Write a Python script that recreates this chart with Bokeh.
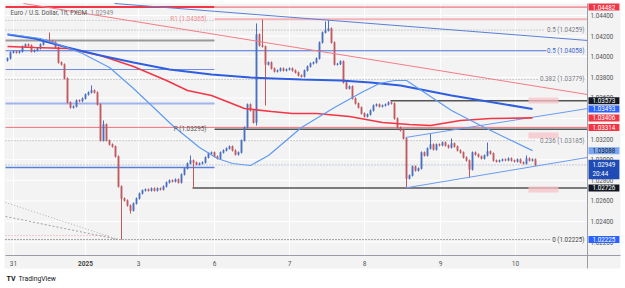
from bokeh.plotting import figure
from bokeh.models import Range1d, Label
from bokeh.core.properties import value
from bokeh.embed import file_html
from bokeh.resources import INLINE

# ---------------- data (EUR/USD 1h) ----------------
first_open = 1.03963
closes = [
    1.03983, 1.04041, 1.04051, 1.04041, 1.04051, 1.04099, 1.04119, 1.04109, 1.04051, 1.04061,
    1.04080, 1.04119, 1.04148, 1.04158, 1.04150, 1.04140, 1.04090, 1.03944, 1.03925, 1.03789,
    1.03556, 1.03507, 1.03517, 1.03575, 1.03570, 1.03594, 1.03633, 1.03653, 1.03672, 1.03653,
    1.03536, 1.03187, 1.03342, 1.03187, 1.03148, 1.03128, 1.03031, 1.02740, 1.02623, 1.02604,
    1.02555, 1.02507, 1.02575, 1.02623, 1.02672, 1.02701, 1.02711, 1.02701, 1.02721, 1.02701,
    1.02721, 1.02711, 1.02740, 1.02779, 1.02798, 1.02789, 1.02808, 1.02779, 1.02857, 1.02915,
    1.02963, 1.02992, 1.02973, 1.02954, 1.02963, 1.02973, 1.03022, 1.03060, 1.03070, 1.03031,
    1.03012, 1.03070, 1.03090, 1.03109, 1.03128, 1.03090, 1.03051, 1.03070, 1.03187, 1.03313,
    1.03536, 1.03478, 1.03361, 1.04216, 1.04109, 1.04099, 1.03925, 1.03944, 1.03886, 1.03857,
    1.03866, 1.03886, 1.03866, 1.03876, 1.03886, 1.03866, 1.03847, 1.03818, 1.03808, 1.03866,
    1.03905, 1.03934, 1.03944, 1.03983, 1.04138, 1.04235, 1.04255, 1.04274, 1.04138, 1.03925,
    1.03930, 1.03954, 1.03750, 1.03692, 1.03711, 1.03594, 1.03546, 1.03507, 1.03449, 1.03420,
    1.03439, 1.03478, 1.03526, 1.03536, 1.03517, 1.03526, 1.03536, 1.03556, 1.03546, 1.03400,
    1.03313, 1.03284, 1.03206, 1.02818, 1.02847, 1.02934, 1.02895, 1.02915, 1.03070, 1.03041,
    1.03109, 1.03148, 1.03099, 1.03148, 1.03140, 1.03167, 1.03138, 1.03119, 1.03157, 1.03128,
    1.03090, 1.03070, 1.03022, 1.02992, 1.02905, 1.03070, 1.03051, 1.03031, 1.03012, 1.03041,
    1.03080, 1.03060, 1.02992, 1.02983, 1.02992, 1.03002, 1.02995, 1.03012, 1.02992, 1.02983,
    1.03002, 1.02973, 1.02963, 1.03012, 1.02992, 1.03002, 1.02949,
]
# long wicks: bar -> (high, low); None = short wick
long_wicks = {
    14: (1.04235, None), 28: (1.03721, None), 32: (1.03381, None), 38: (None, 1.02225),
    41: (None, 1.02478), 61: (1.03041, None), 62: (None, 1.02726), 83: (1.04323, 1.03332),
    85: (1.04362, None), 86: (None, 1.03526), 106: (1.04342, None), 107: (1.04352, None),
    133: (None, 1.02726), 141: (1.03255, None), 148: (1.03206, None), 154: (None, 1.02827),
    160: (1.03167, None), 173: (1.03041, None),
}

# moving averages (bar, price)
fast_ma_x = [0, 11, 18, 25, 34, 42, 48, 55, 64, 70, 75, 81, 87, 98, 109, 118, 124, 129, 133, 138, 148, 159, 175]
fast_ma_y = [1.04221, 1.04177, 1.04109, 1.04031, 1.03895, 1.03692, 1.03526, 1.03332, 1.03119, 1.03012,
             1.02963, 1.02944, 1.03041, 1.03313, 1.03507, 1.03653, 1.03740, 1.03769, 1.03769, 1.03672,
             1.03478, 1.03313, 1.03088]
blue_ma_x = [0, 9, 20, 31, 42, 54, 68, 81, 98, 111, 121, 131, 148, 175]
blue_ma_y = [1.04216, 1.04177, 1.04090, 1.04012, 1.03944, 1.03876, 1.03827, 1.03798, 1.03779, 1.03769,
             1.03750, 1.03721, 1.03624, 1.03493]
red_ma_x = [0, 9, 20, 31, 42, 53, 60, 68, 79, 88, 95, 103, 114, 125, 134, 141, 151, 161, 175]
red_ma_y = [1.04099, 1.04090, 1.04080, 1.04012, 1.03905, 1.03769, 1.03672, 1.03624, 1.03497, 1.03468,
            1.03449, 1.03449, 1.03420, 1.03361, 1.03342, 1.03332, 1.03381, 1.03400, 1.03406]

# trend lines (bar, price pairs)
desc_blue_x = [35.67, 193.33]
desc_blue_y = [1.04517, 1.04158]
desc_red_x = [5.33, 193.33]
desc_red_y = [1.04517, 1.03633]
chan_up_x = [132.67, 193.33]
chan_up_y = [1.03216, 1.03497]
chan_lo_x = [132.67, 193.33]
chan_lo_y = [1.02726, 1.03022]
fan1_x = [-0.67, 37]
fan1_y = [1.02585, 1.02225]
fan2_x = [-0.67, 37]
fan2_y = [1.02449, 1.02225]

# horizontal levels
level_prices = [1.04482, 1.04482, 1.04365, 1.04352, 1.04259, 1.04158, 1.04058, 1.03876, 1.03779,
                1.03573, 1.03546, 1.03314, 1.03295, 1.03185, 1.02949, 1.02924, 1.02726, 1.02264, 1.02225]

zone_bottoms = [1.03546, 1.03206, 1.02682]
zone_tops = [1.03604, 1.03264, 1.02740]

day_ticks = [2, 26, 43.67, 69, 94, 119, 144.33, 169.33]
day_labels = ["31", "2025", "3", "6", "7", "8", "9", "10"]
price_ticks = [1.022, 1.024, 1.026, 1.028, 1.030, 1.032, 1.034, 1.036, 1.038, 1.040, 1.042, 1.044]

fib_texts = ["0.5 (1.04259)", "0.5 (1.04058)", "0.382 (1.03779)", "0.236 (1.03185)", "0 (1.02225)"]
fib_prices = [1.04259, 1.04058, 1.03779, 1.03185, 1.02225]
pivot_texts = ["R1 (1.04365)", "P (1.03295)"]
pivot_prices = [1.04365, 1.03295]

axis_box_texts = ["1.04482", "1.03573", "1.03493", "1.03406", "1.03314", "1.03088", "1.02726", "1.02225"]
axis_box_prices = [1.04482, 1.03573, 1.03493, 1.03406, 1.03314, 1.03088, 1.02726, 1.02225]
last_price = 1.02949
countdown = "20:44"


# ---------------- layout helpers (pixel -> data) ----------------
def xp(px):
    return (px - 7) / 3.0


def yp(py):
    return 1.04546 - py * 0.0000971


FONT = "Roboto"
FS = "6.3px"
UP, DOWN = "#4b6fbe", "#c1595f"

p = figure(width=625, height=288, x_range=Range1d(xp(0), xp(625)), y_range=Range1d(yp(288), yp(0)),
           x_axis_location=None, y_axis_location=None, output_backend="svg", toolbar_location=None,
           min_border=0)
p.background_fill_color = "white"
p.border_fill_color = "white"
p.outline_line_color = None
p.grid.visible = False

# chart panel
p.quad(left=[xp(4)], right=[xp(620)], bottom=[yp(268)], top=[yp(3)], fill_color="#f3f3f3", line_color=None)

# grid (white)
p.segment(x0=day_ticks, x1=day_ticks, y0=[yp(255)] * len(day_ticks), y1=[yp(3)] * len(day_ticks),
          line_color="white", line_width=1)
p.segment(x0=[xp(5)] * len(price_ticks), x1=[xp(587)] * len(price_ticks), y0=price_ticks, y1=price_ticks,
          line_color="white", line_width=1)

# horizontal levels: (x0 px, x1 px, color, width, dash)
level_styles = [
    (5, 214, "#f23645", 2, "solid"), (214, 587, "#f4535f", 1, "solid"), (214, 587, "#f5b3b8", 2, "solid"),
    (5, 214, "#b4b4b4", 1, "1 2"), (5, 543, "#a8a8a8", 1, "1 2"), (5, 214, "#9a9a9a", 2, "solid"),
    (5, 546, "#4a72d8", 1, "solid"), (5, 214, "#6d8ee0", 1, "solid"), (5, 537, "#a8a8a8", 1, "1 2"),
    (390, 587, "#555555", 1.5, "solid"), (5, 214, "#9fb4ec", 2, "solid"), (5, 587, "#f0707a", 1, "solid"),
    (214, 587, "#555555", 1.5, "solid"), (5, 536, "#a8a8a8", 1, "1 2"), (5, 587, "#8ea2cf", 1, "1 2"),
    (5, 214, "#5a7fd8", 1.5, "solid"), (192, 587, "#555555", 1.5, "solid"), (5, 110, "#f0a0a8", 1, "1 2"),
    (5, 551, "#555555", 1, "1 2"),
]
for price, (a, b, col, w, dash) in zip(level_prices, level_styles):
    p.line([xp(a), xp(b)], [price, price], line_color=col, line_width=w, line_dash=dash)

# pink zones
p.quad(left=[xp(528)] * 3, right=[xp(558)] * 3, bottom=zone_bottoms, top=zone_tops,
       fill_color="#f7c3c8", fill_alpha=0.75, line_color=None)

# fan lines
p.line(fan1_x, fan1_y, line_color="#b0b0b0", line_width=1, line_dash="1 2")
p.line(fan2_x, fan2_y, line_color="#a0a0a0", line_width=1, line_dash="2 2")

# candles
opens = [first_open] + closes[:-1]
highs, lows, colors = [], [], []
for i, (o, c) in enumerate(zip(opens, closes)):
    hi, lo = max(o, c) + 0.0001, min(o, c) - 0.0001
    if i in long_wicks:
        h, l = long_wicks[i]
        if h is not None:
            hi = h
        if l is not None:
            lo = l
    highs.append(hi)
    lows.append(lo)
    colors.append(UP if c >= o else DOWN)
idx = list(range(len(closes)))
p.segment(x0=idx, y0=highs, x1=idx, y1=lows, line_color=colors, line_width=1)
p.vbar(x=idx, width=0.62, top=[max(o, c) + 0.00003 for o, c in zip(opens, closes)],
       bottom=[min(o, c) - 0.00003 for o, c in zip(opens, closes)], fill_color=colors, line_color=None)

# trend lines
p.line(desc_blue_x, desc_blue_y, line_color="#5b7fd6", line_width=1)
p.line(desc_red_x, desc_red_y, line_color="#f47c84", line_width=1)
p.line(chan_up_x, chan_up_y, line_color="#6a9cf0", line_width=1)
p.line(chan_lo_x, chan_lo_y, line_color="#6a9cf0", line_width=1)

# moving averages
p.line(red_ma_x, red_ma_y, line_color="#f23645", line_width=1.6)
p.line(blue_ma_x, blue_ma_y, line_color="#2f5fe0", line_width=2)
p.line(fast_ma_x, fast_ma_y, line_color="#5f9bf2", line_width=1.2)

# axis lines
p.line([xp(587), xp(587)], [yp(268), yp(3)], line_color="#9a9da6", line_width=1)
p.line([xp(5), xp(620)], [yp(255), yp(255)], line_color="#9a9da6", line_width=1)

# price scale labels
p.text(x=[xp(590)] * len(price_ticks), y=price_ticks, text=[f"{t:.5f}" for t in price_ticks],
       text_align="left", text_baseline="middle", text_font=value(FONT), text_font_size=FS,
       text_color="#555555")
# time scale labels
tl = [l if l != "2025" else "" for l in day_labels]
p.text(x=day_ticks, y=[yp(263)] * len(day_ticks), text=tl, text_align="center", text_baseline="middle",
       text_font=value(FONT), text_font_size="6.5px", text_color="#555555")
p.text(x=[day_ticks[day_labels.index("2025")]], y=[yp(263)], text=["2025"], text_align="center",
       text_baseline="middle", text_font=value(FONT), text_font_size="6.5px", text_font_style="bold",
       text_color="#444444")

# texts on the chart
for t, pr in zip(fib_texts, fib_prices):
    col = "#3d63c9" if t == "0.5 (1.04058)" else ("#444444" if t.startswith("0 (") else "#787b86")
    p.add_layout(Label(x=xp(584), y=pr, text=t, text_align="right", text_baseline="middle",
                       text_font=FONT, text_font_size=FS, text_color=col))
for t, pr in zip(pivot_texts, pivot_prices):
    p.add_layout(Label(x=xp(206), y=pr, text=t, text_align="right", text_baseline="middle",
                       text_font=FONT, text_font_size=FS,
                       text_color="#f28b94" if t.startswith("R1") else "#555555"))

p.add_layout(Label(x=xp(10), y=yp(12), text="Euro / U.S. Dollar, 1h, FXCM", text_baseline="middle",
                   text_font=FONT, text_font_size=FS, text_color="#555555"))
p.add_layout(Label(x=xp(90), y=yp(12), text=f"{last_price:.5f}", text_baseline="middle",
                   text_font=FONT, text_font_size=FS, text_color="#8a8a8a"))

# price axis boxes
box_fill = ["#f23645", "#131722", "#2962ff", "#f23645", "#f23645", "#7aa7f5", "#131722", "#2962ff"]
box_text = ["white", "white", "white", "white", "white", "#131722", "white", "white"]
pad = dict(left=4, right=4, top=1, bottom=1)
for t, pr, bf, tc in zip(axis_box_texts, axis_box_prices, box_fill, box_text):
    p.add_layout(Label(x=xp(588), y=pr, text=t, text_align="left", text_baseline="middle",
                       text_font=FONT, text_font_size=FS, text_color=tc,
                       background_fill_color=bf, background_fill_alpha=1, padding=pad))
p.add_layout(Label(x=xp(588), y=yp(169), text=f"{last_price:.5f}\n{countdown}", text_align="left",
                   text_baseline="middle", text_font=FONT, text_font_size=FS, text_color="white",
                   background_fill_color="#1f4bb5", background_fill_alpha=1, padding=pad))

# TradingView mark
p.add_layout(Label(x=xp(6), y=yp(278), text="TV", text_baseline="middle", text_font=FONT,
                   text_font_size="7px", text_font_style="bold", text_color="#131722"))
p.add_layout(Label(x=xp(18), y=yp(278), text="TradingView", text_baseline="middle", text_font=FONT,
                   text_font_size="6.8px", text_color="#131722"))

open("out.html", "w").write(file_html(p, INLINE))
